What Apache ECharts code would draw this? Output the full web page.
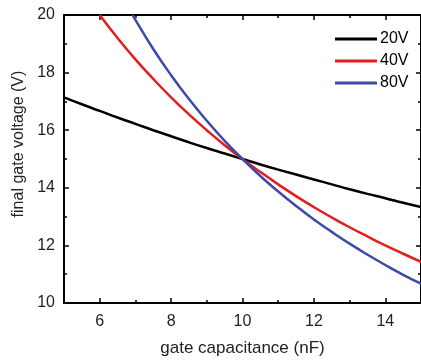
<!DOCTYPE html>
<html>
<head>
<meta charset="utf-8">
<script src="https://cdn.jsdelivr.net/npm/echarts@6/dist/echarts.min.js"></script>
<style>html,body{margin:0;padding:0;background:#fff}#c{width:421px;height:362px}</style>
</head>
<body>
<div id="c"></div>
<script>
var seriesNames = ['20V', '40V', '80V'];
var xTicks = [6, 8, 10, 12, 14];
var xMinorTicks = [5, 7, 9, 11, 13, 15];
var v20 = [[5,17.14],[5.5,16.90],[6,16.67],[6.5,16.44],[7,16.22],[7.5,16.00],[8,15.79],[8.5,15.58],[9,15.38],[9.5,15.19],[10,15.00],[10.5,14.81],[11,14.63],[11.5,14.46],[12,14.29],[12.5,14.12],[13,13.95],[13.5,13.79],[14,13.64],[14.5,13.48],[15,13.33]];
var v40 = [[6,20.00],[6.5,19.20],[7,18.46],[7.5,17.78],[8,17.14],[8.5,16.55],[9,16.00],[9.5,15.48],[10,15.00],[10.5,14.55],[11,14.12],[11.5,13.71],[12,13.33],[12.5,12.97],[13,12.63],[13.5,12.31],[14,12.00],[14.5,11.71],[15,11.43]];
var v80 = [[6.92,20.00],[7,19.83],[7.5,18.82],[8,17.91],[8.5,17.08],[9,16.33],[9.5,15.63],[10,15.00],[10.5,14.41],[11,13.87],[11.5,13.37],[12,12.90],[12.5,12.47],[13,12.06],[13.5,11.68],[14,11.32],[14.5,10.98],[15,10.67]];
var colors = ['#000000', '#e41d1f', '#3d4aa8'];

var font = 'Liberation Sans, Arial, Helvetica, sans-serif';
var chart = echarts.init(document.getElementById('c'), null, {renderer: 'canvas'});
function axisCommon(extra) {
  var base = {
    axisLine: {show: true, onZero: false, lineStyle: {color: '#000', width: 2}},
    axisTick: {show: true, inside: true, length: 5, lineStyle: {color: '#000', width: 1.5}},
    minorTick: {show: true, splitNumber: 2, length: 3, lineStyle: {color: '#000', width: 1.5}},
    splitLine: {show: false},
    minorSplitLine: {show: false}
  };
  for (var k in extra) base[k] = extra[k];
  return base;
}
function xMajor(pos, showLabel, extra) {
  var a = axisCommon({type: 'value', min: 5, max: 15, interval: 1, position: pos,
    axisTick: {show: true, inside: true, length: 5, customValues: xTicks, lineStyle: {color: '#000', width: 1.5}},
    minorTick: {show: false},
    axisLabel: {show: showLabel, customValues: xTicks, fontFamily: font, fontSize: 16, color: '#222', margin: 11}});
  for (var k in extra) a[k] = extra[k];
  return a;
}
function xMinor(pos) {
  return {type: 'value', min: 5, max: 15, interval: 1, position: pos,
    axisLine: {show: false, onZero: false},
    axisTick: {show: true, inside: true, length: 3, customValues: xMinorTicks, lineStyle: {color: '#000', width: 1.5}},
    axisLabel: {show: false}, splitLine: {show: false}};
}
var option = {
  animation: false,
  backgroundColor: '#fff',
  color: colors,
  grid: {left: 64, top: 15, width: 361, height: 291, containLabel: false},
  legend: {
    orient: 'vertical', left: 330, top: 26,
    icon: 'rect', itemWidth: 42, itemHeight: 3, itemGap: 6,
    textStyle: {fontFamily: font, fontSize: 16, color: '#000', padding: [0,0,0,-2]},
    data: seriesNames
  },
  xAxis: [
    xMajor('bottom', true, {name: 'gate capacitance (nF)', nameLocation: 'middle', nameGap: 37,
      nameTextStyle: {fontFamily: font, fontSize: 17, color: '#222'}}),
    xMajor('top', false, {}),
    xMinor('bottom'),
    xMinor('top')
  ],
  yAxis: [
    axisCommon({type: 'value', min: 10, max: 20, interval: 2, position: 'left',
      axisLabel: {show: true, fontFamily: font, fontSize: 16, color: '#222', margin: 9},
      name: 'final gate voltage (V)', nameLocation: 'middle', nameGap: 36,
      nameTextStyle: {fontFamily: font, fontSize: 16, color: '#222', padding: [0,0,0,30]}}),
    axisCommon({type: 'value', min: 10, max: 20, interval: 2, position: 'right',
      axisLabel: {show: false}})
  ],
  series: [
    {name: seriesNames[0], type: 'line', data: v20, smooth: true, showSymbol: false, lineStyle: {width: 2.5, color: colors[0]}},
    {name: seriesNames[1], type: 'line', data: v40, smooth: true, showSymbol: false, lineStyle: {width: 2.5, color: colors[1]}},
    {name: seriesNames[2], type: 'line', data: v80, smooth: true, showSymbol: false, lineStyle: {width: 2.5, color: colors[2]}}
  ]
};
chart.setOption(option);
</script>
</body>
</html>
